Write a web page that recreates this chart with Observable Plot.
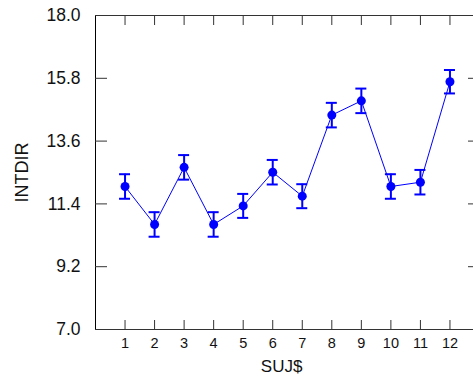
<!DOCTYPE html>
<html>
<head>
<meta charset="utf-8">
<script src="https://cdn.jsdelivr.net/npm/d3@7"></script>
<script src="https://cdn.jsdelivr.net/npm/@observablehq/plot@0.6"></script>
<style>
html, body { margin: 0; padding: 0; overflow: hidden; background: #fff; }
#chart { width: 473px; height: 383px; overflow: hidden; }
#chart svg { display: block; max-width: none !important; }
</style>
</head>
<body>
<div id="chart"></div>
<script>
const subjects = [1, 2, 3, 4, 5, 6, 7, 8, 9, 10, 11, 12];
const means = [12.01, 10.68, 12.68, 10.68, 11.33, 12.51, 11.67, 14.51, 15.01, 12.01, 12.16, 15.68];
const errors = [0.43, 0.43, 0.43, 0.43, 0.42, 0.43, 0.42, 0.43, 0.43, 0.43, 0.43, 0.41];
const yTicks = [7.0, 9.2, 11.4, 13.6, 15.8, 18.0];
const xLabel = "SUJ$";
const yLabel = "INTDIR";

const data = subjects.map((s, i) => ({s, m: means[i], lo: means[i] - errors[i], hi: means[i] + errors[i]}));
const blue = "#0000ff";
const axisColor = "#333";
const textColor = "#111";

const chart = Plot.plot({
  width: 479,
  height: 383,
  marginLeft: 95,
  marginRight: 0,
  marginTop: 15,
  marginBottom: 54,
  style: {fontFamily: "'Liberation Sans', Arial, sans-serif", background: "#fff", overflow: "visible"},
  x: {domain: [0, 13]},
  y: {domain: [7, 18]},
  marks: [
    Plot.ruleX([0], {stroke: "#000"}),
    Plot.ruleY([18], {stroke: axisColor}),
    Plot.ruleY([7], {stroke: axisColor}),
    Plot.axisX(subjects, {anchor: "bottom", tickSize: -9, tickPadding: 17, fontSize: 14.5, label: null, stroke: axisColor, color: textColor}),
    Plot.axisX(subjects, {anchor: "top", tickSize: -9, text: null, label: null, stroke: axisColor}),
    Plot.axisY(yTicks, {anchor: "left", tickSize: -12, tickPadding: 27, tickFormat: ".1f", fontSize: 17.5, label: null, stroke: axisColor, color: textColor}),
    Plot.axisY(yTicks, {anchor: "right", tickSize: -12, text: null, label: null, stroke: axisColor}),
    Plot.text([yLabel], {frameAnchor: "left", dx: -73, rotate: -90, fontSize: 18, fill: textColor, textAnchor: "middle", lineAnchor: "middle"}),
    Plot.text([xLabel], {frameAnchor: "bottom", dy: 37, fontSize: 17, fill: textColor, x: () => 6.3, textAnchor: "middle", lineAnchor: "middle"}),
    Plot.line(data, {x: "s", y: "m", stroke: blue, strokeWidth: 1}),
    Plot.ruleX(data, {x: "s", y1: "lo", y2: "hi", stroke: blue, strokeWidth: 2}),
    Plot.ruleY(data, {y: "hi", x1: "s", x2: "s", insetLeft: -5.5, insetRight: -5.5, stroke: blue, strokeWidth: 2}),
    Plot.ruleY(data, {y: "lo", x1: "s", x2: "s", insetLeft: -5.5, insetRight: -5.5, stroke: blue, strokeWidth: 2}),
    Plot.dot(data, {x: "s", y: "m", r: 4.5, fill: blue, stroke: null})
  ]
});
document.getElementById("chart").append(chart);
</script>
</body>
</html>
